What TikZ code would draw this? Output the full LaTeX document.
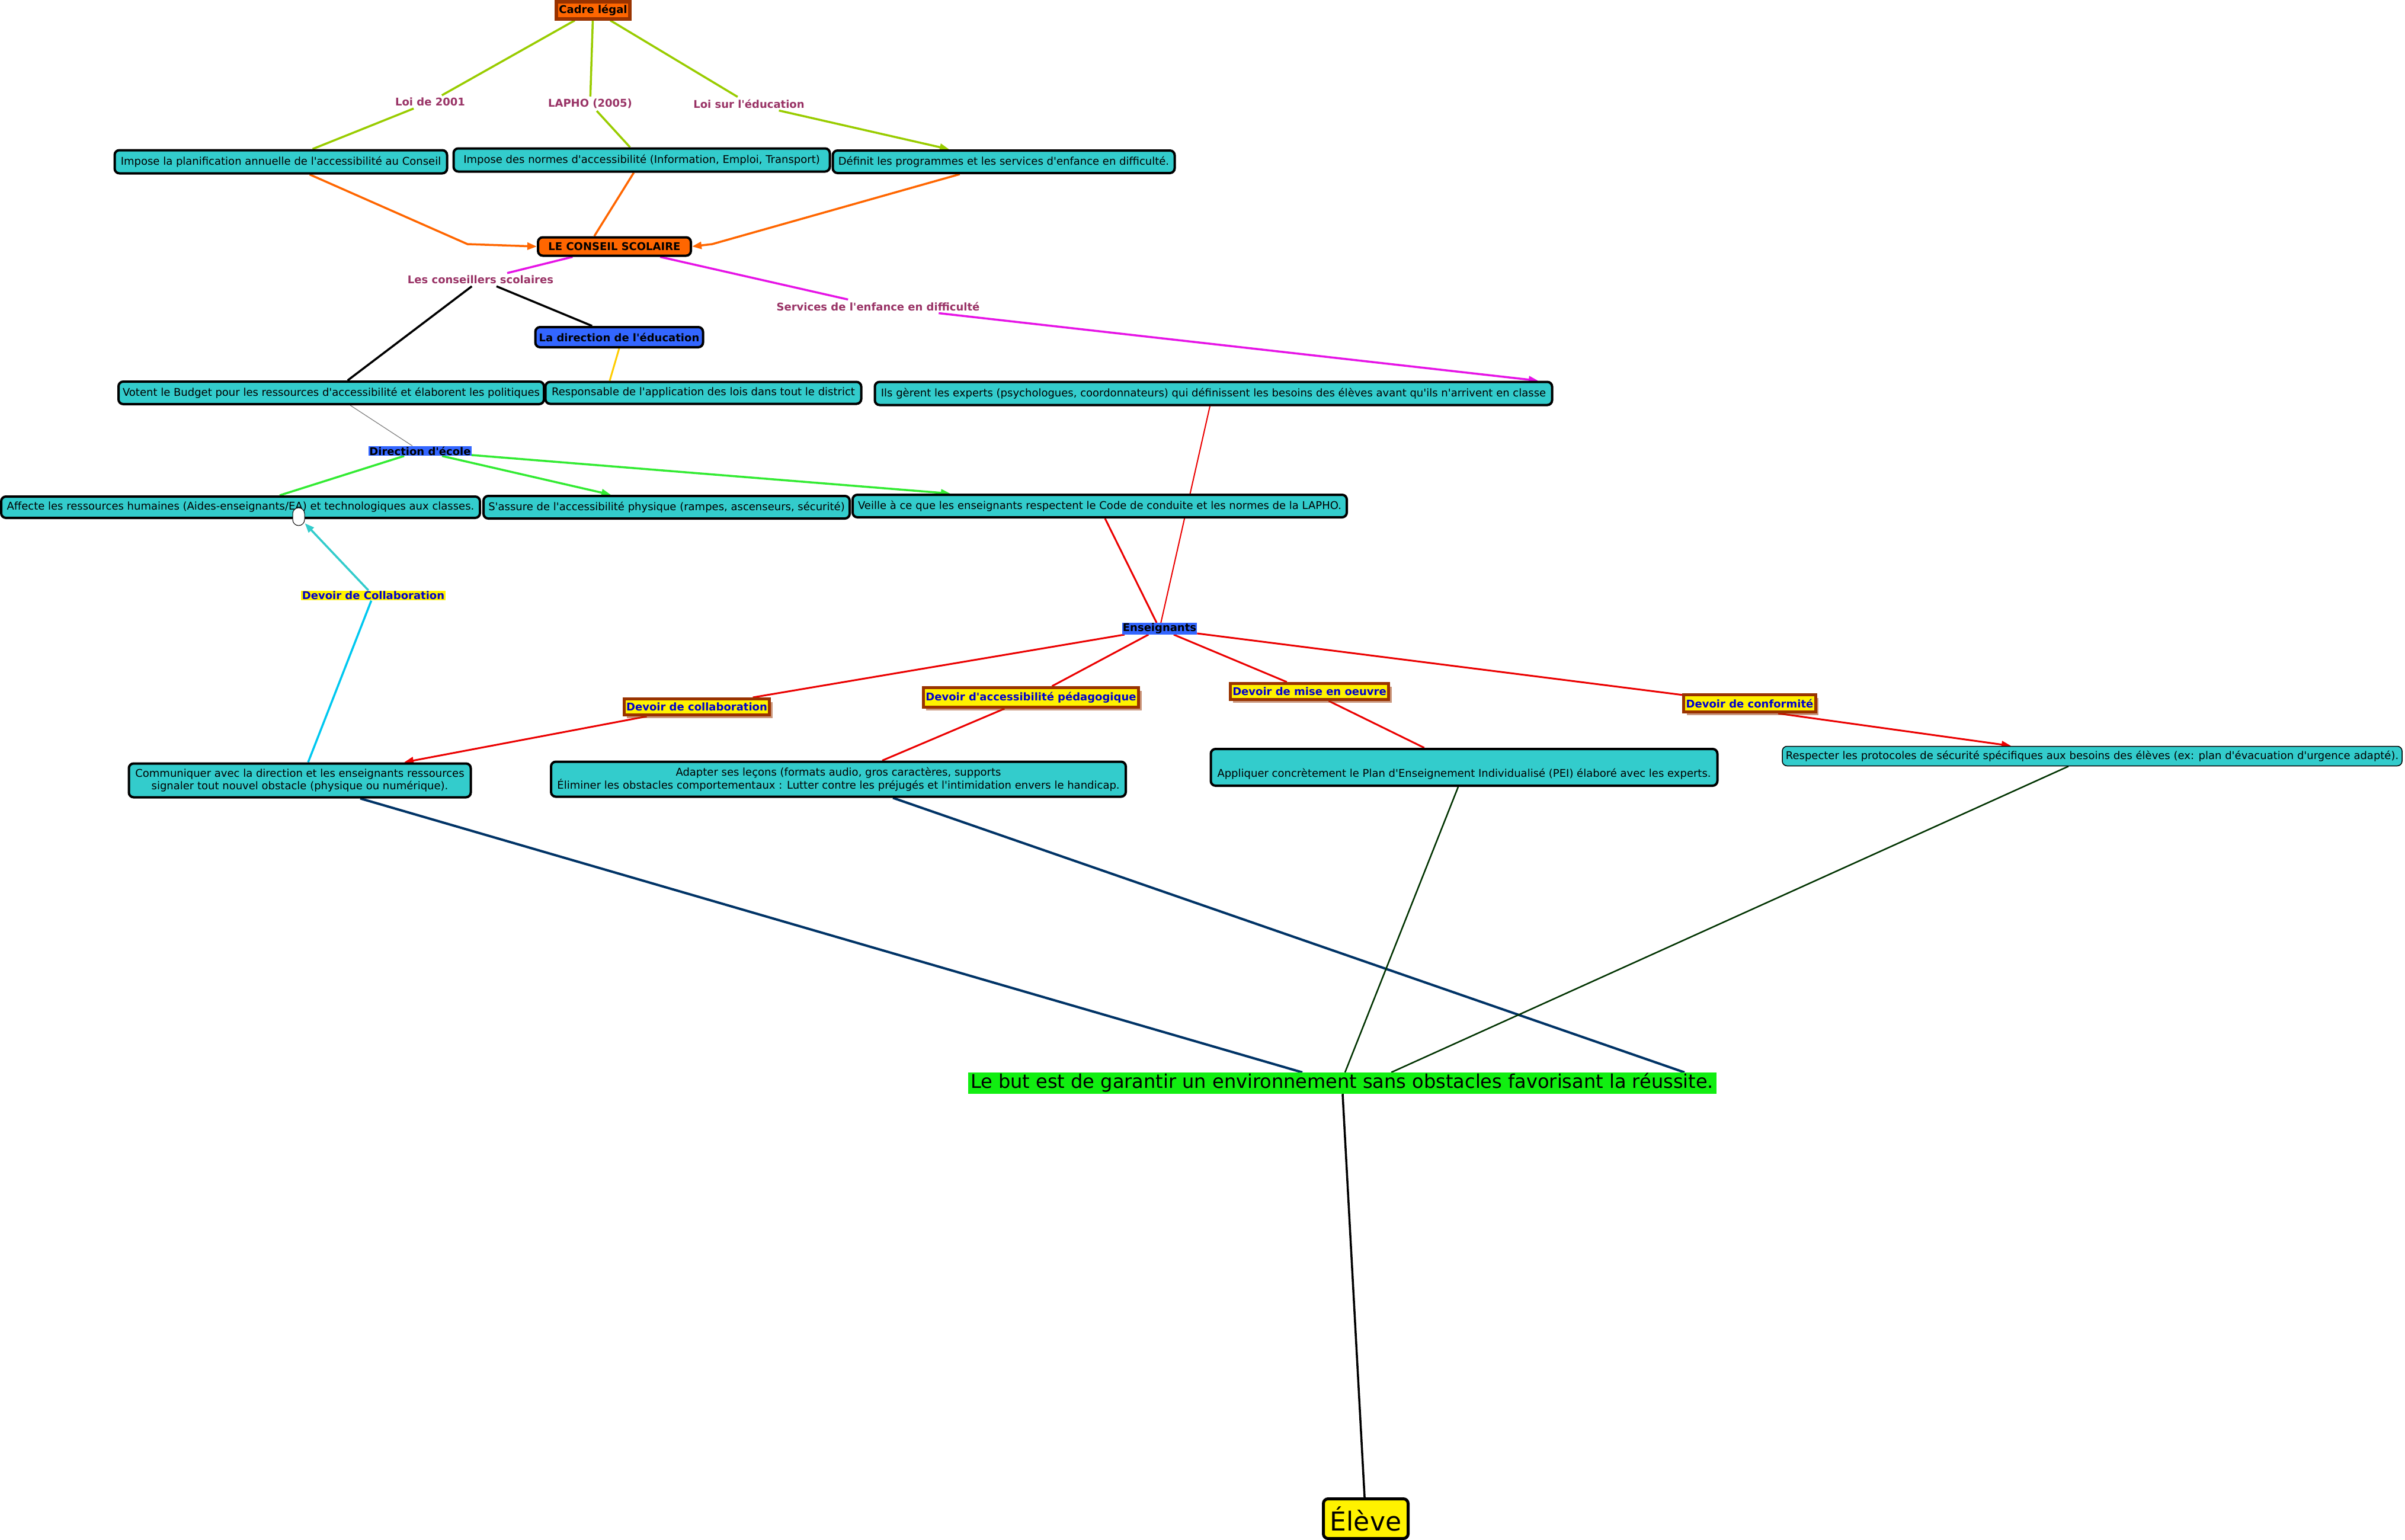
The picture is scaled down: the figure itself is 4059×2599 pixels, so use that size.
\documentclass[tikz,border=0pt]{standalone}
\usepackage{fontspec}
\setmainfont{DejaVu Sans}[Ligatures=TeXOff]
\usetikzlibrary{arrows.meta,shadows,backgrounds}

\definecolor{cmapteal}{RGB}{51,204,204}
\definecolor{cmaporange}{RGB}{255,102,0}
\definecolor{cmapbrown}{RGB}{153,51,0}
\definecolor{cmapblue}{RGB}{51,102,255}
\definecolor{phrasepurple}{RGB}{153,51,102}
\definecolor{dutyblue}{RGB}{0,0,204}
\definecolor{lawgreen}{RGB}{153,204,0}
\definecolor{pinkline}{RGB}{230,20,230}
\definecolor{goldline}{RGB}{255,204,0}
\definecolor{greenline}{RGB}{51,235,51}
\definecolor{skyline}{RGB}{0,200,240}
\definecolor{redline}{RGB}{235,0,0}
\definecolor{navyline}{RGB}{0,51,102}
\definecolor{darkgreenline}{RGB}{0,51,0}
\definecolor{goalgreen}{RGB}{17,238,17}

\newcommand{\txt}{\fontsize{18}{21.6}\selectfont}
\newcommand{\txtb}{\bfseries\fontsize{18}{21.6}\selectfont}

\begin{document}
\begin{tikzpicture}[x=1pt, y=-1pt,
  box/.style={rectangle, rounded corners=8pt, draw=black, line width=4pt,
    fill=cmapteal, align=center, inner xsep=3pt, inner ysep=2pt, font=\txt},
  boxthin/.style={box, line width=1.5pt},
  orgbox/.style={box, font=\txtb},
  lawbox/.style={rectangle, draw=cmapbrown, line width=6pt, fill=cmaporange,
    font=\txtb, minimum width=124pt, minimum height=29pt, inner sep=1pt},
  phrase/.style={inner sep=4pt, text=phrasepurple, font=\txtb},
  phraseblue/.style={inner sep=1pt, fill=cmapblue, font=\txtb},
  phraseyellow/.style={inner sep=1.5pt, fill=yellow, text=dutyblue, font=\txtb},
  dutybox/.style={rectangle, draw=cmapbrown, line width=5pt, fill=yellow,
    text=dutyblue, font=\txtb, inner xsep=4pt, minimum height=27pt,
    drop shadow={shadow xshift=5pt, shadow yshift=-5pt, fill=cmapbrown}},
  arrow/.style={-{Triangle[length=16pt, width=12pt]}},
  lawline/.style={draw=lawgreen, line width=3.5pt},
  orangeline/.style={draw=cmaporange, line width=3.5pt},
  pinkline/.style={draw=pinkline, line width=3.5pt},
  redline/.style={draw=redline, line width=3pt},
]
\useasboundingbox (0,0) rectangle (4059,2599);

% cadre légal
\node[lawbox] (cadre) at (1001,17) {Cadre légal};
\node[phrase] (l2001) at (726,172) {Loi de 2001};
\node[phrase] (llapho) at (996,175) {LAPHO (2005)};
\node[phrase] (leduc) at (1264,175) {Loi sur l'éducation};

\node[box, minimum width=561pt, minimum height=39pt] (plan) at (474,273)
  {Impose la planification annuelle de l'accessibilité au Conseil};
\node[box, minimum width=635pt, minimum height=39pt] (normes) at (1083,270)
  {Impose des normes d'accessibilité (Information, Emploi, Transport)};
\node[box, minimum width=577pt, minimum height=38pt] (programmes) at (1694,273)
  {Définit les programmes et les services d'enfance en difficulté.};

% conseil scolaire
\coordinate (bendA) at (789,412);
\coordinate (bendB) at (1202,412);
\node[orgbox, fill=cmaporange, minimum width=258pt, minimum height=31pt]
  (conseil) at (1037,416) {LE CONSEIL SCOLAIRE};
\node[phrase] (lconseillers) at (811,472) {Les conseillers scolaires};
\node[phrase] (lservices) at (1482,517) {Services de l'enfance en difficulté};
\node[orgbox, fill=cmapblue, minimum width=283pt, minimum height=34pt]
  (direction) at (1045,569) {La direction de l'éducation};

\node[box, minimum width=718pt, minimum height=38pt] (budget) at (559,663)
  {Votent le Budget pour les ressources d'accessibilité et élaborent les politiques};
\node[box, minimum width=533pt, minimum height=37pt] (responsable) at (1187,663)
  {Responsable de l'application des lois dans tout le district};
\node[box, minimum width=1143pt, minimum height=39pt] (experts) at (2048,664)
  {Ils gèrent les experts (psychologues, coordonnateurs) qui définissent les besoins des élèves avant qu'ils n'arrivent en classe};

% direction d'école
\node[phraseblue] (ldirection) at (709,761) {Direction d'école};
\node[box, minimum width=808pt, minimum height=36pt] (affecte) at (406,856)
  {Affecte les ressources humaines (Aides-enseignants/EA) et technologiques aux classes.};
\node[box, minimum width=618pt, minimum height=38pt] (assure) at (1125,856)
  {S'assure de l'accessibilité physique (rampes, ascenseurs, sécurité)};
\node[box, minimum width=834pt, minimum height=38pt] (veille) at (1856,854)
  {Veille à ce que les enseignants respectent le Code de conduite et les normes de la LAPHO.};
\node[rectangle, rounded corners=10pt, draw=black, line width=1pt, fill=white,
  minimum width=20pt, minimum height=30pt] (pill) at (504,872) {};

% enseignants
\node[phraseyellow] (lcollab) at (630,1005) {Devoir de Collaboration};
\node[phraseblue] (lenseignants) at (1957,1061) {Enseignants};
\node[dutybox] (dcollab) at (1176,1193) {Devoir de collaboration};
\node[dutybox, minimum height=33pt] (daccess) at (1740,1177)
  {Devoir d'accessibilité pédagogique};
\node[dutybox] (dmise) at (2210,1167) {Devoir de mise en oeuvre};
\node[dutybox, minimum height=29pt] (dconf) at (2953,1187) {Devoir de conformité};

\node[box, minimum width=577pt, minimum height=57pt] (communiquer) at (506,1317)
  {Communiquer avec la direction et les enseignants ressources\\
   signaler tout nouvel obstacle (physique ou numérique).};
\node[box, minimum width=970pt, minimum height=59pt] (adapter) at (1415,1315)
  {Adapter ses leçons (formats audio, gros caractères, supports\\
   Éliminer les obstacles comportementaux : Lutter contre les préjugés et l'intimidation envers le handicap.};
\node[box, minimum width=855pt, minimum height=62pt] (appliquer) at (2471,1295)
  {\strut\\Appliquer concrètement le Plan d'Enseignement Individualisé (PEI) élaboré avec les experts.};
\node[boxthin, minimum width=1046pt, minimum height=33pt] (respecter) at (3531,1276)
  {Respecter les protocoles de sécurité spécifiques aux besoins des élèves (ex: plan d'évacuation d'urgence adapté).};

% but et élève
\node[rectangle, fill=goalgreen, inner sep=0pt, minimum width=1263pt,
  text height=25pt, text depth=8pt, minimum height=36pt,
  font=\fontsize{32}{36}\selectfont] (but) at (2265,1828)
  {Le but est de garantir un environnement sans obstacles favorisant la réussite.};
\node[rectangle, rounded corners=8pt, draw=black, line width=5pt, fill=yellow,
  minimum width=143pt, minimum height=67pt, inner sep=0pt,
  font=\fontsize{44}{50}\selectfont] (eleve) at (2305,2563) {Élève};

\begin{scope}[on background layer]
\fill[white] (0,0) rectangle (4059,2599);
% lois
\draw[lawline] (cadre) -- (l2001);
\draw[lawline] (l2001) -- (plan);
\draw[lawline] (cadre) -- (llapho);
\draw[lawline] (llapho) -- (normes);
\draw[lawline] (cadre) -- (leduc);
\draw[lawline, arrow] (leduc) -- (programmes);
% vers le conseil
\draw[orangeline, arrow] (plan) -- (bendA) -- (conseil.west);
\draw[orangeline] (normes) -- ([xshift=-34pt]conseil.north);
\draw[orangeline, arrow] (programmes) -- (bendB) -- (conseil.east);
\draw[pinkline] (conseil) -- (lconseillers);
\draw[pinkline] (conseil) -- (lservices);
\draw[pinkline, arrow] (lservices) -- ([xshift=548pt]experts.north);
\draw[black, line width=3.5pt] (lconseillers) -- (budget);
\draw[black, line width=3.5pt] (lconseillers) -- (direction);
\draw[goldline, line width=3pt] (direction.south) -- ([xshift=-158pt]responsable.north);
% direction d'école
\draw[gray, line width=1.2pt] (budget) -- (ldirection);
\draw[greenline, line width=3.5pt] (ldirection) -- ([xshift=66pt]affecte.north);
\draw[greenline, line width=3.5pt, arrow] (ldirection) -- ([xshift=-94pt]assure.north);
\draw[greenline, line width=3.5pt, arrow] (ldirection) -- ([xshift=-252pt]veille.north);
% collaboration
\draw[skyline, line width=3.5pt] ([xshift=14pt]communiquer.north) -- (lcollab);
\draw[cmapteal, line width=3.5pt, arrow] (lcollab) -- (pill);
% enseignants
\draw[redline, line width=2pt] ([xshift=-6pt]experts.south) -- (lenseignants);
\draw[redline] ([xshift=9pt]veille.south) -- (lenseignants);
\draw[redline] (lenseignants) -- (dcollab);
\draw[redline, arrow] (dcollab) -- ([xshift=176pt]communiquer.north);
\draw[redline] (lenseignants) -- (daccess);
\draw[redline] (daccess) -- (adapter);
\draw[redline] (lenseignants) -- (dmise);
\draw[redline] (dmise) -- (appliquer);
\draw[redline] (lenseignants) -- (dconf);
\draw[redline, arrow] ([xshift=48pt]dconf.south) -- ([xshift=-137pt]respecter.north);
% vers le but
\draw[navyline, line width=4pt] ([xshift=102pt]communiquer.south) -- ([xshift=-67pt]but.north);
\draw[navyline, line width=4pt] ([xshift=92pt]adapter.south) -- ([xshift=578pt]but.north);
\draw[darkgreenline, line width=2.5pt] ([xshift=-10pt]appliquer.south) -- ([xshift=5pt]but.north);
\draw[darkgreenline, line width=2.5pt] ([xshift=-40pt]respecter.south) -- ([xshift=83pt]but.north);
\draw[black, line width=3.5pt] (but) -- (eleve);
\end{scope}
\end{tikzpicture}
\end{document}
